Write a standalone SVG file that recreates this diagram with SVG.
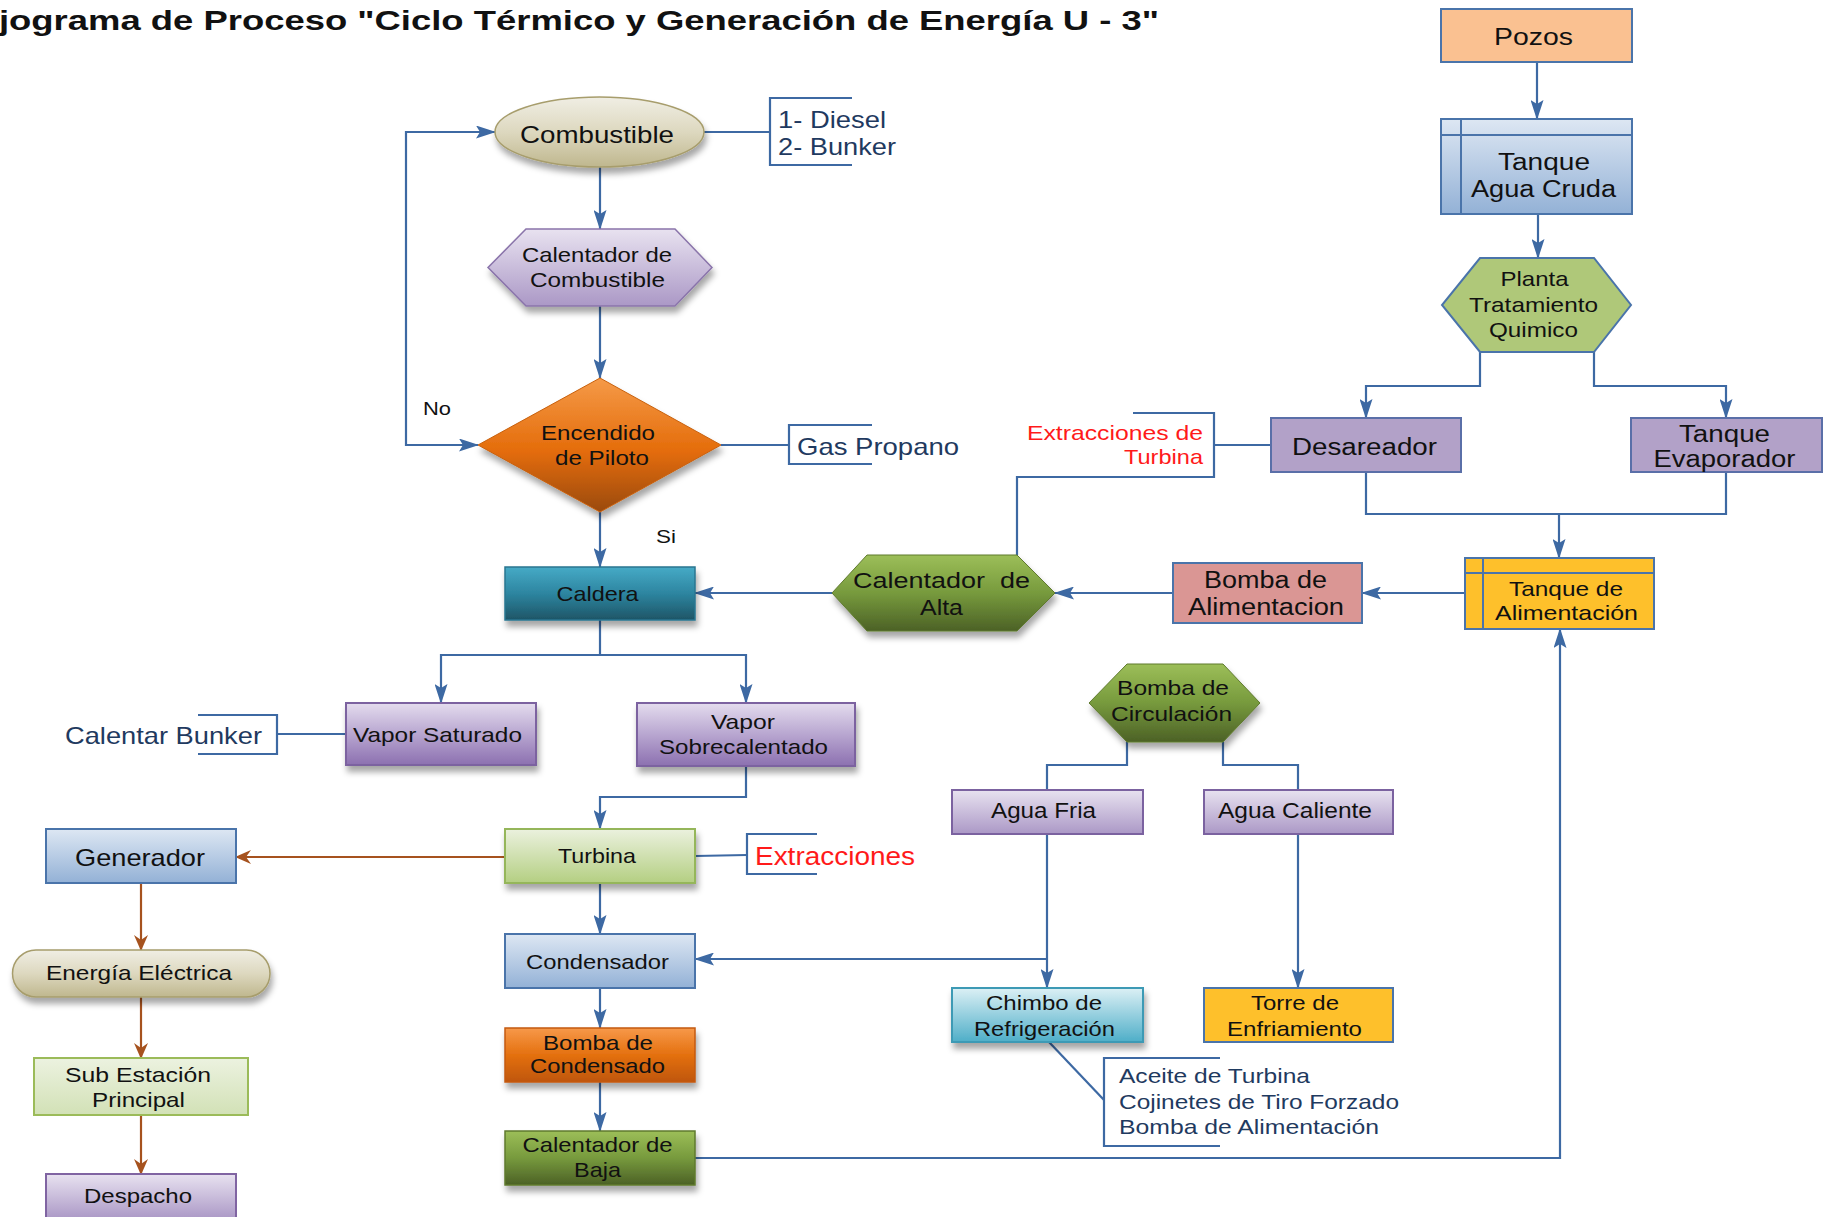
<svg xmlns="http://www.w3.org/2000/svg" width="1833" height="1217" viewBox="0 0 1833 1217">
  <defs>
    <style>
      text { font-family: "Liberation Sans", Arial, sans-serif; fill: #111; }
      .c { text-anchor: middle; }
      .note { fill: #1f3a60; }
      .red { fill: #ff1a1a; }
      .conn { fill: none; stroke: #3d69a3; stroke-width: 2.2; }
      .brn { fill: none; stroke: #a6521e; stroke-width: 2.2; }
      .arr { marker-end: url(#ah); }
      .arrb { marker-end: url(#ahb); }
      .flatB { stroke: #4a74aa; stroke-width: 2; }
      .shadow { filter: url(#sh); }
    </style>
    <marker id="ah" viewBox="0 0 20 13" refX="19" refY="6.5" markerWidth="20" markerHeight="13" markerUnits="userSpaceOnUse" orient="auto-start-reverse">
      <path d="M0,0 L20,6.5 L0,13 L4,6.5 Z" fill="#3d69a3"/>
    </marker>
    <marker id="ahb" viewBox="0 0 16 14" refX="15" refY="7" markerWidth="16" markerHeight="14" markerUnits="userSpaceOnUse" orient="auto">
      <path d="M0,0 L16,7 L0,14 L5,7 Z" fill="#a6521e"/>
    </marker>
    <filter id="sh" x="-20%" y="-20%" width="140%" height="160%">
      <feDropShadow dx="2" dy="6" stdDeviation="3" flood-color="#000" flood-opacity="0.35"/>
    </filter>
    <linearGradient id="gBeige" x1="0" y1="0" x2="0" y2="1">
      <stop offset="0" stop-color="#f0eee4"/><stop offset="0.5" stop-color="#ddd8bf"/><stop offset="1" stop-color="#bfb78e"/>
    </linearGradient>
    <linearGradient id="gLilac" x1="0" y1="0" x2="0" y2="1">
      <stop offset="0" stop-color="#e8e2f0"/><stop offset="1" stop-color="#ab98c6"/>
    </linearGradient>
    <linearGradient id="gPurple" x1="0" y1="0" x2="0" y2="1">
      <stop offset="0" stop-color="#e4dcee"/><stop offset="0.5" stop-color="#b8a6d0"/><stop offset="1" stop-color="#8c70b0"/>
    </linearGradient>
    <linearGradient id="gOrange" x1="0" y1="0" x2="0" y2="1">
      <stop offset="0" stop-color="#f59a48"/><stop offset="0.55" stop-color="#e46c0a"/><stop offset="1" stop-color="#9a4a08"/>
    </linearGradient>
    <linearGradient id="gOrangeBox" x1="0" y1="0" x2="0" y2="1">
      <stop offset="0" stop-color="#f7994a"/><stop offset="0.5" stop-color="#e4700f"/><stop offset="1" stop-color="#bf560a"/>
    </linearGradient>
    <linearGradient id="gTeal" x1="0" y1="0" x2="0" y2="1">
      <stop offset="0" stop-color="#46aac6"/><stop offset="0.5" stop-color="#2d85a0"/><stop offset="1" stop-color="#1e5566"/>
    </linearGradient>
    <linearGradient id="gOlive" x1="0" y1="0" x2="0" y2="1">
      <stop offset="0" stop-color="#9cbe58"/><stop offset="0.5" stop-color="#779a3d"/><stop offset="1" stop-color="#4c6126"/>
    </linearGradient>
    <linearGradient id="gLime" x1="0" y1="0" x2="0" y2="1">
      <stop offset="0" stop-color="#ebf1de"/><stop offset="1" stop-color="#b4cf82"/>
    </linearGradient>
    <linearGradient id="gPaleGreen" x1="0" y1="0" x2="0" y2="1">
      <stop offset="0" stop-color="#ecf2e0"/><stop offset="1" stop-color="#d2e1b6"/>
    </linearGradient>
    <linearGradient id="gBlue" x1="0" y1="0" x2="0" y2="1">
      <stop offset="0" stop-color="#dde7f3"/><stop offset="1" stop-color="#93b1d6"/>
    </linearGradient>
    <linearGradient id="gCyan" x1="0" y1="0" x2="0" y2="1">
      <stop offset="0" stop-color="#dcf0f5"/><stop offset="1" stop-color="#4eaec8"/>
    </linearGradient>
  </defs>

  <rect width="1833" height="1217" fill="#ffffff"/>

  <!-- heading -->
  <text x="-1" y="30" font-size="28" font-weight="bold" textLength="1160" lengthAdjust="spacingAndGlyphs">jograma de Proceso "Ciclo Térmico y Generación de Energía U - 3"</text>

  <!-- connectors -->
  <g id="connectors">
    <path class="conn arr" d="M600,167 V229"/>
    <path class="conn arr" d="M600,306 V378"/>
    <path class="conn" d="M478,445 H406 V132 H495" marker-start="url(#ah)" marker-end="url(#ah)"/>
    <path class="conn arr" d="M600,512 V567"/>
    <path class="conn" d="M704,132 H770"/>
    <path class="conn" d="M852,98 H770 V165 H852"/>
    <path class="conn" d="M721,445 H789"/>
    <path class="conn" d="M872,425 H789 V464 H872"/>

    <path class="conn arr" d="M1537,62 V119"/>
    <path class="conn arr" d="M1538,214 V258"/>
    <path class="conn arr" d="M1480,352 V386 H1366 V418"/>
    <path class="conn arr" d="M1594,352 V386 H1726 V418"/>
    <path class="conn" d="M1366,472 V514 H1726 V472"/>
    <path class="conn arr" d="M1559,514 V558"/>
    <path class="conn" d="M1271,445 H1214"/>
    <path class="conn" d="M1133,413 H1214 V477 H1017 V555"/>

    <path class="conn arr" d="M1465,593 H1362"/>
    <path class="conn arr" d="M1173,593 H1055"/>
    <path class="conn arr" d="M832,593 H695"/>

    <path class="conn arr" d="M600,620 V655 H441 V703"/>
    <path class="conn arr" d="M600,655 H746 V703"/>
    <path class="conn" d="M346,734 H277"/>
    <path class="conn" d="M198,715 H277 V754 H198"/>
    <path class="conn arr" d="M746,766 V797 H600 V829"/>

    <path class="brn arrb" d="M505,857 H236"/>
    <path class="conn" d="M695,856 L747,855"/>
    <path class="conn" d="M817,834 H747 V874 H817"/>
    <path class="conn arr" d="M600,883 V934"/>
    <path class="conn arr" d="M1047,959 H695"/>
    <path class="conn arr" d="M600,988 V1028"/>
    <path class="conn arr" d="M600,1082 V1131"/>
    <path class="conn arr" d="M695,1158 H1560 V629"/>

    <path class="brn arrb" d="M141,883 V950"/>
    <path class="brn arrb" d="M141,997 V1058"/>
    <path class="brn arrb" d="M141,1115 V1174"/>

    <path class="conn" d="M1127,742 V765 H1047 V790"/>
    <path class="conn" d="M1223,742 V765 H1298 V790"/>
    <path class="conn arr" d="M1047,834 V988"/>
    <path class="conn arr" d="M1298,834 V988"/>
    <path class="conn" d="M1049,1042 L1104,1100"/>
    <path class="conn" d="M1220,1058 H1104 V1146 H1220"/>
  </g>

  <!-- fuel side -->
  <g id="combustible">
    <ellipse class="shadow" cx="599.5" cy="132" rx="104.5" ry="35" fill="url(#gBeige)" stroke="#a79d6c" stroke-width="1.5"/>
    <text class="c" x="597" y="143" font-size="24" textLength="154" lengthAdjust="spacingAndGlyphs">Combustible</text>
  </g>
  <g id="nota-combustible">
    <text class="note" x="778" y="128" font-size="24" textLength="108" lengthAdjust="spacingAndGlyphs">1- Diesel</text>
    <text class="note" x="778" y="155" font-size="24" textLength="118" lengthAdjust="spacingAndGlyphs">2- Bunker</text>
  </g>
  <g id="calentador-combustible">
    <polygon class="shadow" points="526,229 675,229 712,267.5 675,306 526,306 488,267.5" fill="url(#gLilac)" stroke="#8a74aa" stroke-width="1.5"/>
    <text class="c" x="597" y="262" font-size="21" textLength="150" lengthAdjust="spacingAndGlyphs">Calentador de</text>
    <text class="c" x="597.5" y="287" font-size="21" textLength="135" lengthAdjust="spacingAndGlyphs">Combustible</text>
  </g>
  <g id="encendido-piloto">
    <polygon class="shadow" points="600,378 721,445 600,512 478,445" fill="url(#gOrange)" stroke="#c8600c" stroke-width="1"/>
    <text class="c" x="598" y="440" font-size="21" textLength="114" lengthAdjust="spacingAndGlyphs">Encendido</text>
    <text class="c" x="602" y="465" font-size="21" textLength="94" lengthAdjust="spacingAndGlyphs">de Piloto</text>
  </g>
  <g id="nota-gas">
    <text class="note" x="797" y="455" font-size="24" textLength="162" lengthAdjust="spacingAndGlyphs">Gas Propano</text>
  </g>
  <text x="423" y="415" font-size="19" textLength="28" lengthAdjust="spacingAndGlyphs">No</text>
  <text x="656" y="543" font-size="19" textLength="20" lengthAdjust="spacingAndGlyphs">Si</text>

  <!-- water treatment -->
  <g id="pozos">
    <rect x="1441" y="9" width="191" height="53" fill="#fac191" class="flatB"/>
    <text class="c" x="1533.5" y="45" font-size="23" textLength="79" lengthAdjust="spacingAndGlyphs">Pozos</text>
  </g>
  <g id="tanque-agua-cruda">
    <rect x="1441" y="119" width="191" height="95" fill="url(#gBlue)" class="flatB"/>
    <path d="M1461,119 V214 M1441,135 H1632" stroke="#4a74aa" stroke-width="2" fill="none"/>
    <text class="c" x="1544" y="170" font-size="23" textLength="92" lengthAdjust="spacingAndGlyphs">Tanque</text>
    <text class="c" x="1543.5" y="197" font-size="23" textLength="145" lengthAdjust="spacingAndGlyphs">Agua Cruda</text>
  </g>
  <g id="planta-tratamiento">
    <polygon points="1480,258 1594,258 1631,305 1594,352 1480,352 1442,305" fill="#afc879" class="flatB"/>
    <text class="c" x="1534.5" y="286" font-size="21" textLength="68" lengthAdjust="spacingAndGlyphs">Planta</text>
    <text class="c" x="1533.5" y="312" font-size="21" textLength="129" lengthAdjust="spacingAndGlyphs">Tratamiento</text>
    <text class="c" x="1533.5" y="337" font-size="21" textLength="89" lengthAdjust="spacingAndGlyphs">Quimico</text>
  </g>
  <g id="desareador">
    <rect x="1271" y="418" width="190" height="54" fill="#b2a1c8" stroke="#5a6fa8" stroke-width="2"/>
    <text class="c" x="1364.5" y="455" font-size="23" textLength="145" lengthAdjust="spacingAndGlyphs">Desareador</text>
  </g>
  <g id="tanque-evaporador">
    <rect x="1631" y="418" width="191" height="54" fill="#b2a1c8" stroke="#5a6fa8" stroke-width="2"/>
    <text class="c" x="1724.5" y="442" font-size="23" textLength="91" lengthAdjust="spacingAndGlyphs">Tanque</text>
    <text class="c" x="1724.5" y="467" font-size="23" textLength="142" lengthAdjust="spacingAndGlyphs">Evaporador</text>
  </g>
  <g id="nota-extracciones-turbina">
    <text class="red" x="1027" y="440" font-size="21" textLength="176" lengthAdjust="spacingAndGlyphs">Extracciones de</text>
    <text class="red" x="1124" y="464" font-size="21" textLength="79" lengthAdjust="spacingAndGlyphs">Turbina</text>
  </g>

  <!-- feed water line -->
  <g id="tanque-alimentacion">
    <rect x="1465" y="558" width="189" height="71" fill="#fec02b" class="flatB"/>
    <path d="M1483,558 V629 M1465,573 H1654" stroke="#4a74aa" stroke-width="2" fill="none"/>
    <text class="c" x="1566" y="596" font-size="21" textLength="114" lengthAdjust="spacingAndGlyphs">Tanque de</text>
    <text class="c" x="1566.5" y="620" font-size="21" textLength="143" lengthAdjust="spacingAndGlyphs">Alimentación</text>
  </g>
  <g id="bomba-alimentacion">
    <rect x="1173" y="563" width="189" height="60" fill="#da9694" class="flatB"/>
    <text class="c" x="1265.5" y="588" font-size="23" textLength="123" lengthAdjust="spacingAndGlyphs">Bomba de</text>
    <text class="c" x="1266" y="615" font-size="23" textLength="156" lengthAdjust="spacingAndGlyphs">Alimentacion</text>
  </g>
  <g id="calentador-alta">
    <polygon class="shadow" points="867,555 1017,555 1055,593 1017,631 867,631 832,593" fill="url(#gOlive)" stroke="#5f7a2e" stroke-width="1"/>
    <text class="c" x="941.5" y="588" font-size="22" textLength="177" lengthAdjust="spacingAndGlyphs">Calentador&#160; de</text>
    <text class="c" x="941.5" y="615" font-size="22" textLength="43" lengthAdjust="spacingAndGlyphs">Alta</text>
  </g>

  <!-- boiler and steam -->
  <g id="caldera">
    <rect class="shadow" x="505" y="567" width="190" height="53" fill="url(#gTeal)" stroke="#2a7690" stroke-width="1.5"/>
    <text class="c" x="597.5" y="601" font-size="21" textLength="82" lengthAdjust="spacingAndGlyphs">Caldera</text>
  </g>
  <g id="vapor-saturado">
    <rect class="shadow" x="346" y="703" width="190" height="62" fill="url(#gPurple)" stroke="#7b62a0" stroke-width="2"/>
    <text class="c" x="437.5" y="742" font-size="21" textLength="169" lengthAdjust="spacingAndGlyphs">Vapor Saturado</text>
  </g>
  <g id="nota-calentar-bunker">
    <text class="note" x="65" y="744" font-size="24" textLength="197" lengthAdjust="spacingAndGlyphs">Calentar Bunker</text>
  </g>
  <g id="vapor-sobrecalentado">
    <rect class="shadow" x="637" y="703" width="218" height="63" fill="url(#gPurple)" stroke="#7b62a0" stroke-width="2"/>
    <text class="c" x="743" y="729" font-size="21" textLength="64" lengthAdjust="spacingAndGlyphs">Vapor</text>
    <text class="c" x="743.5" y="754" font-size="21" textLength="169" lengthAdjust="spacingAndGlyphs">Sobrecalentado</text>
  </g>
  <g id="turbina">
    <rect class="shadow" x="505" y="829" width="190" height="54" fill="url(#gLime)" stroke="#95b65a" stroke-width="2"/>
    <text class="c" x="597" y="863" font-size="21" textLength="78" lengthAdjust="spacingAndGlyphs">Turbina</text>
  </g>
  <g id="nota-extracciones">
    <text class="red" x="755" y="865" font-size="25" textLength="160" lengthAdjust="spacingAndGlyphs">Extracciones</text>
  </g>
  <g id="condensador">
    <rect x="505" y="934" width="190" height="54" fill="url(#gBlue)" class="flatB"/>
    <text class="c" x="597.5" y="969" font-size="21" textLength="143" lengthAdjust="spacingAndGlyphs">Condensador</text>
  </g>
  <g id="bomba-condensado">
    <rect class="shadow" x="505" y="1028" width="190" height="54" fill="url(#gOrangeBox)" stroke="#c45a10" stroke-width="1.5"/>
    <text class="c" x="598" y="1050" font-size="21" textLength="110" lengthAdjust="spacingAndGlyphs">Bomba de</text>
    <text class="c" x="597.5" y="1073" font-size="21" textLength="135" lengthAdjust="spacingAndGlyphs">Condensado</text>
  </g>
  <g id="calentador-baja">
    <rect class="shadow" x="505" y="1131" width="190" height="54" fill="url(#gOlive)" stroke="#5f7a2e" stroke-width="1.5"/>
    <text class="c" x="597.5" y="1152" font-size="21" textLength="150" lengthAdjust="spacingAndGlyphs">Calentador de</text>
    <text class="c" x="597.5" y="1177" font-size="21" textLength="47" lengthAdjust="spacingAndGlyphs">Baja</text>
  </g>

  <!-- electrical output -->
  <g id="generador">
    <rect x="46" y="829" width="190" height="54" fill="url(#gBlue)" class="flatB"/>
    <text class="c" x="140" y="866" font-size="24" textLength="130" lengthAdjust="spacingAndGlyphs">Generador</text>
  </g>
  <g id="energia-electrica">
    <rect class="shadow" x="12.5" y="950" width="257.5" height="47" rx="23.5" fill="url(#gBeige)" stroke="#a79d6c" stroke-width="1.5"/>
    <text class="c" x="139" y="980" font-size="21" textLength="186" lengthAdjust="spacingAndGlyphs">Energía Eléctrica</text>
  </g>
  <g id="sub-estacion">
    <rect x="34" y="1058" width="214" height="57" fill="url(#gPaleGreen)" stroke="#9bbb59" stroke-width="2"/>
    <text class="c" x="138" y="1082" font-size="21" textLength="146" lengthAdjust="spacingAndGlyphs">Sub Estación</text>
    <text class="c" x="138.5" y="1107" font-size="21" textLength="93" lengthAdjust="spacingAndGlyphs">Principal</text>
  </g>
  <g id="despacho">
    <rect x="46" y="1174" width="190" height="45" fill="url(#gLilac)" stroke="#8064a2" stroke-width="2"/>
    <text class="c" x="138" y="1203" font-size="21" textLength="108" lengthAdjust="spacingAndGlyphs">Despacho</text>
  </g>

  <!-- cooling water -->
  <g id="bomba-circulacion">
    <polygon class="shadow" points="1127,664 1223,664 1260,703 1223,742 1127,742 1089,703" fill="url(#gOlive)" stroke="#5f7a2e" stroke-width="1"/>
    <text class="c" x="1173" y="695" font-size="21" textLength="112" lengthAdjust="spacingAndGlyphs">Bomba de</text>
    <text class="c" x="1171.5" y="721" font-size="21" textLength="121" lengthAdjust="spacingAndGlyphs">Circulación</text>
  </g>
  <g id="agua-fria">
    <rect x="952" y="790" width="191" height="44" fill="url(#gLilac)" stroke="#7b62a0" stroke-width="2"/>
    <text class="c" x="1043.5" y="818" font-size="22" textLength="105" lengthAdjust="spacingAndGlyphs">Agua Fria</text>
  </g>
  <g id="agua-caliente">
    <rect x="1204" y="790" width="189" height="44" fill="url(#gLilac)" stroke="#7b62a0" stroke-width="2"/>
    <text class="c" x="1295" y="818" font-size="22" textLength="154" lengthAdjust="spacingAndGlyphs">Agua Caliente</text>
  </g>
  <g id="chimbo-refrigeracion">
    <rect class="shadow" x="952" y="988" width="191" height="54" fill="url(#gCyan)" stroke="#3c9ab5" stroke-width="2"/>
    <text class="c" x="1044" y="1010" font-size="21" textLength="116" lengthAdjust="spacingAndGlyphs">Chimbo de</text>
    <text class="c" x="1044.5" y="1036" font-size="21" textLength="141" lengthAdjust="spacingAndGlyphs">Refrigeración</text>
  </g>
  <g id="torre-enfriamiento">
    <rect x="1204" y="988" width="189" height="54" fill="#fec02b" class="flatB"/>
    <text class="c" x="1295" y="1010" font-size="21" textLength="88" lengthAdjust="spacingAndGlyphs">Torre de</text>
    <text class="c" x="1294.5" y="1036" font-size="21" textLength="135" lengthAdjust="spacingAndGlyphs">Enfriamiento</text>
  </g>
  <g id="nota-chimbo">
    <text class="note" x="1119" y="1083" font-size="21" textLength="191" lengthAdjust="spacingAndGlyphs">Aceite de Turbina</text>
    <text class="note" x="1119" y="1109" font-size="21" textLength="280" lengthAdjust="spacingAndGlyphs">Cojinetes de Tiro Forzado</text>
    <text class="note" x="1119" y="1134" font-size="21" textLength="260" lengthAdjust="spacingAndGlyphs">Bomba de Alimentación</text>
  </g>
</svg>
